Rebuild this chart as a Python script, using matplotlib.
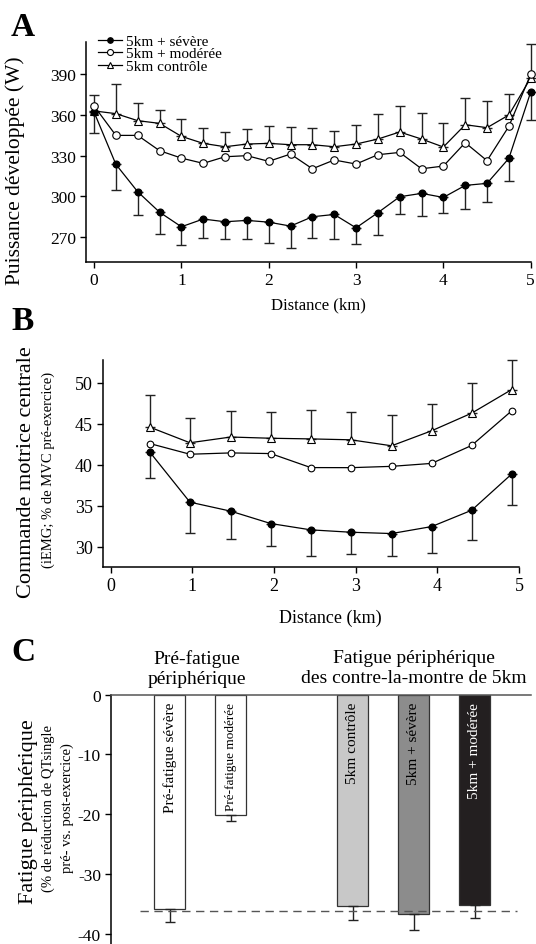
import matplotlib
matplotlib.use("Agg")
import matplotlib.pyplot as plt

plt.rcParams['font.family'] = ['Liberation Serif', 'DejaVu Serif']
plt.rcParams['axes.unicode_minus'] = False

# ---------------- Data ----------------
dist_A = [0, 0.25, 0.5, 0.75, 1, 1.25, 1.5, 1.75, 2, 2.25, 2.5, 2.75, 3,
          3.25, 3.5, 3.75, 4, 4.25, 4.5, 4.75, 5]
severe_A = [362.2, 323.5, 303.2, 288.1, 277.3, 283.0, 281.0, 282.0, 280.7, 277.8,
            284.7, 286.4, 276.5, 287.7, 299.5, 302.0, 299.0, 307.9, 309.4, 327.9, 377.0]
severe_A_low = [346.7, 304.4, 285.7, 272.0, 263.5, 269.0, 268.4, 268.0, 265.4, 261.5,
                268.9, 267.9, 264.7, 271.1, 286.7, 285.2, 287.7, 290.6, 295.6, 311.4, 356.0]
moderee_A = [366.7, 344.9, 344.9, 333.6, 328.1, 324.2, 329.1, 329.9, 325.7, 331.1,
             320.2, 326.7, 323.7, 330.6, 332.3, 320.2, 322.2, 339.5, 326.2, 351.6, 390.1]
controle_A = [363.0, 361.0, 355.8, 353.8, 344.2, 339.0, 336.5, 338.5, 339.0, 338.0,
              338.0, 336.5, 338.5, 342.2, 347.4, 342.2, 336.3, 352.8, 350.6, 360.0, 387.4]
controle_A_high = [374.6, 383.2, 368.6, 363.7, 357.0, 350.6, 347.2, 349.6, 352.1, 350.9,
                   350.4, 348.1, 352.3, 361.0, 366.4, 361.5, 353.8, 372.8, 370.4, 375.3, 412.8]
series_names = ["5km + sévère", "5km + modérée", "5km contrôle"]

dist_B = [0.48, 0.97, 1.47, 1.96, 2.45, 2.94, 3.44, 3.93, 4.42, 4.91]
controle_B = [44.6, 42.7, 43.4, 43.25, 43.17, 43.06, 42.33, 44.16, 46.31, 49.19]
controle_B_high = [48.54, 45.7, 46.55, 46.43, 46.71, 46.47, 46.1, 47.4, 49.96, 52.8]
moderee_B = [42.6, 41.3, 41.46, 41.38, 39.67, 39.66, 39.82, 40.18, 42.37, 46.59]
severe_B = [41.55, 35.45, 34.35, 32.84, 32.07, 31.78, 31.62, 32.47, 34.46, 38.88]
severe_B_low = [38.45, 31.74, 31.01, 30.04, 28.87, 29.07, 28.82, 29.19, 30.85, 35.1]

labels_C = ["Pré-fatigue sévère", "Pré-fatigue modérée", "5km contrôle",
            "5km + sévère", "5km + modérée"]
values_C = [-35.8, -20.2, -35.4, -36.7, -35.1]
err_C = [2.2, 0.9, 2.3, 2.7, 2.3]
pos_C = [0, 1, 3, 4, 5]
colors_C = ['white', 'white', '#c8c8c8', '#8c8c8c', '#231f20']
text_colors_C = ['black', 'black', 'black', 'black', 'white']
label_sizes_C = [11, 9.5, 11, 11, 11]
ref_C = -36.1
groups_C = ["Pré-fatigue\npériphérique", "Fatigue périphérique\ndes contre-la-montre de 5km"]
group_x_C = [0.45, 4.0]

# ---------------- Figure ----------------
W, H = 536, 945
fig = plt.figure(figsize=(W / 100, H / 100), dpi=100)

def ax_px(l, t, r, b):
    return fig.add_axes([l / W, 1 - b / H, (r - l) / W, (b - t) / H])

LW = 0.9
MS = 4.8
ECOL = '#222222'

def style(ax, fs):
    for s in ['top', 'right']:
        ax.spines[s].set_visible(False)
    for s in ['left', 'bottom']:
        ax.spines[s].set_linewidth(1.1)
    ax.tick_params(direction='out', length=4, width=1.0, labelsize=fs, pad=3)

# ---------- Panel A ----------
axA = ax_px(86, 43, 530.7, 263.3)
errA_sev = [[v - lo for v, lo in zip(severe_A, severe_A_low)], [0] * len(severe_A)]
errA_ctl = [[0] * len(controle_A), [hi - v for v, hi in zip(controle_A, controle_A_high)]]
axA.errorbar(dist_A, severe_A, yerr=errA_sev, fmt='none', ecolor=ECOL, elinewidth=1.0,
             capsize=3.3, capthick=1.0, clip_on=False, zorder=2)
axA.errorbar(dist_A, controle_A, yerr=errA_ctl, fmt='none', ecolor=ECOL, elinewidth=1.0,
             capsize=3.3, capthick=1.0, clip_on=False, zorder=2)
axA.plot(dist_A, severe_A, '-o', color='black', lw=LW, ms=MS, mfc='black',
         label=series_names[0], clip_on=False, zorder=4)
axA.plot(dist_A, moderee_A, '-o', color='black', lw=LW, ms=MS + 0.6, mfc='white',
         mew=0.8, label=series_names[1], clip_on=False, zorder=4)
axA.plot(dist_A, controle_A, '-^', color='black', lw=LW, ms=MS + 0.8, mfc='white',
         mew=0.8, label=series_names[2], clip_on=False, zorder=3)
axA.set_xlim(-0.092, 5.0)
axA.set_ylim(251, 414)
axA.set_xticks([0, 1, 2, 3, 4, 5])
axA.set_yticks([270, 300, 330, 360, 390])
style(axA, 12.5)
axA.set_xlabel("Distance (km)", fontsize=12, labelpad=4)
axA.xaxis.set_label_coords((318 - 86) / (530.7 - 86), -0.155)
axA.set_ylabel("Puissance développée (W)", fontsize=15.5)
axA.yaxis.set_label_coords((25.5 - 86) / (530.7 - 86), (263.3 - 171) / (263.3 - 43))
leg = axA.legend(loc='upper left', bbox_to_anchor=(0.027, 1.035), frameon=False,
                 fontsize=11, handlelength=1.55, handletextpad=0.3, labelspacing=-0.08,
                 borderpad=0, borderaxespad=0, markerscale=0.8)

# ---------- Panel B ----------
axB = ax_px(102.7, 361, 519, 568.3)
errB_sev = [[v - lo for v, lo in zip(severe_B, severe_B_low)], [0] * len(severe_B)]
errB_ctl = [[0] * len(controle_B), [hi - v for v, hi in zip(controle_B, controle_B_high)]]
axB.errorbar(dist_B, severe_B, yerr=errB_sev, fmt='none', ecolor=ECOL, elinewidth=1.0,
             capsize=3.3, capthick=1.0, clip_on=False, zorder=2)
axB.errorbar(dist_B, controle_B, yerr=errB_ctl, fmt='none', ecolor=ECOL, elinewidth=1.0,
             capsize=3.3, capthick=1.0, clip_on=False, zorder=2)
axB.plot(dist_B, severe_B, '-o', color='black', lw=LW, ms=MS, mfc='black', clip_on=False, zorder=4)
axB.plot(dist_B, moderee_B, '-o', color='black', lw=LW, ms=MS, mfc='white', mew=0.8,
         clip_on=False, zorder=4)
axB.plot(dist_B, controle_B, '-^', color='black', lw=LW, ms=MS + 0.6, mfc='white', mew=0.8,
         clip_on=False, zorder=3)
axB.set_xlim(-0.098, 5.0)
axB.set_ylim(27.5, 52.8)
axB.set_xticks([0, 1, 2, 3, 4, 5])
axB.set_yticks([30, 35, 40, 45, 50])
style(axB, 13)
axB.set_xlabel("Distance (km)", fontsize=13)
axB.xaxis.set_label_coords((330 - 102.7) / (519 - 102.7), -0.20)
axB.set_ylabel("")
fig.text(27 / W, 1 - 472 / H, "Commande motrice centrale", rotation=90, fontsize=16,
         ha='center', va='center')
fig.text(48 / W, 1 - 470 / H, "(iEMG; % de MVC pré-exercice)", rotation=90, fontsize=10.5,
         ha='center', va='center')

# ---------- Panel C ----------
axC = ax_px(110.7, 695.7, 531, 945)
axC.bar(pos_C, values_C, width=0.5, color=colors_C, edgecolor='#333333', linewidth=0.9, zorder=2)
axC.errorbar(pos_C, values_C, yerr=[err_C, [0] * len(err_C)], fmt='none', ecolor=ECOL,
             elinewidth=1.0, capsize=3.3, capthick=1.0, zorder=3)
axC.hlines(ref_C, -0.49, 5.7, colors='#555555', linestyles=(0, (6, 4)), lw=1.0, zorder=4)
for p, lab, tc, fs in zip(pos_C, labels_C, text_colors_C, label_sizes_C):
    axC.text(p, -1.2, lab, rotation=90, ha='center', va='top', fontsize=fs, color=tc, zorder=5)
axC.set_xlim(-0.967, 5.923)
axC.set_ylim(-41.7, 0)
axC.set_xticks([])
axC.set_yticks([0, -10, -20, -30, -40])
axC.spines['right'].set_visible(False)
axC.spines['bottom'].set_visible(False)
axC.spines['left'].set_linewidth(1.1)
axC.spines['top'].set_linewidth(1.1)
axC.spines['top'].set_color('#555555')
axC.tick_params(axis='y', direction='out', length=4, width=1.0, labelsize=12.5, pad=3)
for gx, gt in zip(group_x_C, groups_C):
    axC.text(gx, 4.5, gt, ha='center', va='center', fontsize=14, linespacing=1.25,
             clip_on=False)
fig.text(29 / W, 1 - 812 / H, "Fatigue périphérique", rotation=90, fontsize=16,
         ha='center', va='center')
fig.text(48 / W, 1 - 809 / H, "(% de réduction de QTsingle", rotation=90, fontsize=10.5,
         ha='center', va='center')
fig.text(67 / W, 1 - 808 / H, "pré- vs. post-exercice)", rotation=90, fontsize=10.5,
         ha='center', va='center')

# ---------- Panel letters ----------
for letter, ycen in zip("ABC", [27, 322, 653]):
    fig.text(23 / W, 1 - ycen / H, letter, fontsize=24, fontweight='bold',
             ha='center', va='center')

fig.savefig("out.png", dpi=100)
